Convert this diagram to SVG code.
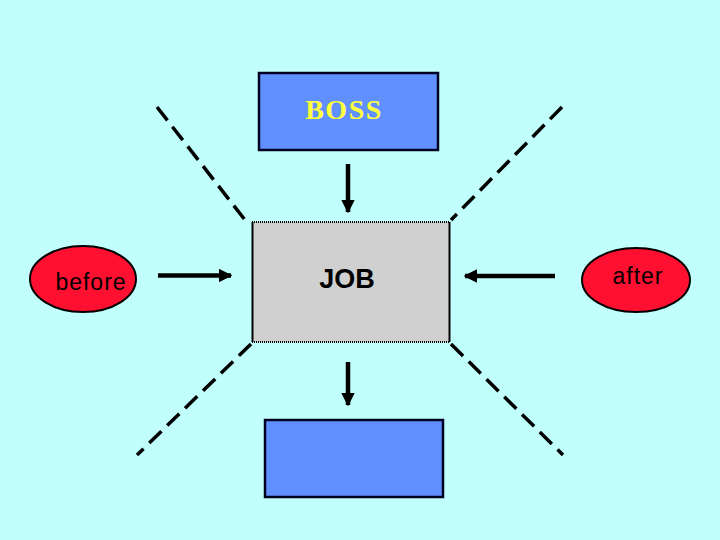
<svg xmlns="http://www.w3.org/2000/svg" width="720" height="540" viewBox="0 0 720 540">
<defs>
<style>
.box{fill:#6090FF;stroke:#000020;stroke-width:2.5}
.oval{fill:#FF1030;stroke:#000;stroke-width:2}
.dash{stroke:#000;stroke-width:3.5;stroke-dasharray:17 8;fill:none}
.arr{stroke:#000;stroke-width:4.5;fill:none}
.lbl{font-family:'Liberation Sans',Arial,sans-serif;fill:#000;text-anchor:middle}
</style>
<marker id="ah" viewBox="0 0 10 10" refX="9" refY="5" markerWidth="3" markerHeight="3" markerUnits="strokeWidth" orient="auto">
<path d="M0,0 L10,5 L0,10 z" fill="#000"/>
</marker>
</defs>
<rect width="720" height="540" fill="#C0FFFC"/>
<g id="connectors">
<line class="dash" x1="157" y1="107" x2="245" y2="220"/>
<line class="dash" x1="562" y1="107" x2="451" y2="220"/>
<line class="dash" x1="251" y1="344" x2="137" y2="455"/>
<line class="dash" x1="451" y1="344" x2="563" y2="455"/>
<line class="arr" x1="348" y1="164" x2="348" y2="212" marker-end="url(#ah)"/>
<line class="arr" x1="348" y1="362" x2="348" y2="405" marker-end="url(#ah)"/>
<line class="arr" x1="158" y1="275.5" x2="231" y2="275.5" marker-end="url(#ah)"/>
<line class="arr" x1="555" y1="276" x2="465" y2="276" marker-end="url(#ah)"/>
</g>
<g id="boss">
<rect class="box" x="259" y="73" width="179" height="77"/>
<text x="344" y="119" font-family="'Liberation Serif','Times New Roman',serif" font-weight="bold" font-size="28" letter-spacing="1.5" fill="#FFFF40" text-anchor="middle">BOSS</text>
</g>
<g id="job">
<rect x="252" y="222" width="198" height="120" fill="#D0D0D0"/>
<line x1="252" y1="222" x2="450" y2="222" stroke="#000" stroke-width="2" stroke-dasharray="1 1"/>
<line x1="252" y1="342" x2="450" y2="342" stroke="#000" stroke-width="2" stroke-dasharray="1 1"/>
<line x1="252.5" y1="222" x2="252.5" y2="342" stroke="#000" stroke-width="2"/>
<line x1="449.5" y1="222" x2="449.5" y2="342" stroke="#000" stroke-width="2"/>
<text class="lbl" x="347" y="288" font-size="27" font-weight="bold">JOB</text>
</g>
<g id="result">
<rect class="box" x="265" y="420" width="178" height="77"/>
</g>
<g id="before">
<ellipse class="oval" cx="83" cy="279" rx="53" ry="33"/>
<text class="lbl" x="91" y="290" font-size="23" letter-spacing="1">before</text>
</g>
<g id="after">
<ellipse class="oval" cx="636" cy="280" rx="54" ry="32"/>
<text class="lbl" x="638" y="284" font-size="23" letter-spacing="1">after</text>
</g>
</svg>
